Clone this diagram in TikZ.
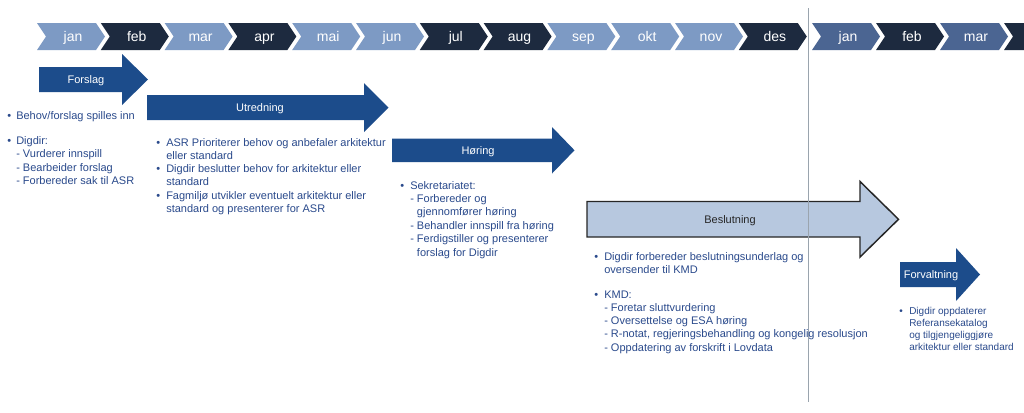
\documentclass[tikz,border=0pt]{standalone}
\usepackage{fontspec}
\setmainfont{Liberation Sans}
\definecolor{mlight}{HTML}{7D9AC4}
\definecolor{mdark}{HTML}{1D2A3F}
\definecolor{mmid}{HTML}{4B6592}
\definecolor{arrblue}{HTML}{1C4C8B}
\definecolor{beslfill}{HTML}{B7C8DF}
\definecolor{txtblue}{HTML}{2A4A8C}
\definecolor{vline}{HTML}{9AA4AE}
\newcommand{\chev}[4]{%
  \fill[#3] (#2,23) -- ++(59,0) -- ++(9,13.5) -- ++(-9,13.5) -- ++(-59,0) -- ++(9,-13.5) -- cycle;
  \node[monthlbl] (#1) at (#2+36,41.5) {#4};}
\newcommand{\tl}[4]{\node[txt] (#1) at (#2,#3) {#4};}
\newcommand{\stl}[4]{\node[smalltxt] (#1) at (#2,#3) {#4};}
\begin{document}
\begin{tikzpicture}[x=0.75pt,y=-0.75pt,
  monthlbl/.style={anchor=base, text=white, font=\fontsize{10.5}{12}\selectfont, inner sep=0},
  txt/.style={anchor=base west, inner sep=0, text=txtblue, font=\fontsize{8.25}{10}\selectfont},
  smalltxt/.style={anchor=base west, inner sep=0, text=txtblue, font=\fontsize{7.5}{9}\selectfont},
  arrlbl/.style={anchor=base, inner sep=0, font=\fontsize{8.25}{10}\selectfont, text=white},
  bigarrow/.style={fill=arrblue},
]
\useasboundingbox (0,0) rectangle (1024,412);
\fill[white] (0,0) rectangle (1024,412);

% month chevrons, year 1
\chev{m1}{37}{mlight}{jan}
\chev{m2}{100.8}{mdark}{feb}
\chev{m3}{164.6}{mlight}{mar}
\chev{m4}{228.4}{mdark}{apr}
\chev{m5}{292.2}{mlight}{mai}
\chev{m6}{356}{mlight}{jun}
\chev{m7}{419.8}{mdark}{jul}
\chev{m8}{483.6}{mdark}{aug}
\chev{m9}{547.4}{mlight}{sep}
\chev{m10}{611.2}{mlight}{okt}
\chev{m11}{675}{mlight}{nov}
\chev{m12}{738.8}{mdark}{des}
% year 2
\chev{n1}{812}{mmid}{jan}
\chev{n2}{876}{mdark}{feb}
\chev{n3}{940}{mmid}{mar}
\begin{scope}
  \clip (0,0) rectangle (1024,412);
  \fill[mdark] (1004,23) -- ++(59,0) -- ++(9,13.5) -- ++(-9,13.5) -- ++(-59,0) -- ++(9,-13.5) -- cycle;
\end{scope}

% Forslag
\fill[bigarrow] (39,67) -- (122,67) -- (122,54) -- (148,79.5) -- (122,105) -- (122,92) -- (39,92) -- cycle;
\node[arrlbl] (forslag) at (86,83.5) {Forslag};
% Utredning
\fill[bigarrow] (147,95) -- (364,95) -- (364,83) -- (388.5,107.5) -- (364,132) -- (364,120) -- (147,120) -- cycle;
\node[arrlbl] (utredning) at (260,111.5) {Utredning};
% Horing
\fill[bigarrow] (392,138.5) -- (552,138.5) -- (552,127) -- (574.5,150.3) -- (552,173.5) -- (552,162) -- (392,162) -- cycle;
\node[arrlbl] (horing) at (478,154.3) {Høring};
% Beslutning
\filldraw[fill=beslfill, draw=black!85, line width=1.1pt, line join=miter] (587,201.5) -- (860,201.5) -- (860,181.5) -- (898.5,219.3) -- (860,257) -- (860,237) -- (587,237) -- cycle;
\node[arrlbl, text=black!85] (beslutning) at (730,223.3) {Beslutning};
% Forvaltning
\fill[bigarrow] (900,262) -- (956,262) -- (956,248) -- (980,274.5) -- (956,301) -- (956,287) -- (900,287) -- cycle;
\node[arrlbl] (forvaltning) at (931,278.5) {Forvaltning};

% vertical year separator
\draw[vline, line width=0.75pt] (808,8) coordinate (vtop) -- (808,402) coordinate (vbot);

% Forslag text
\tl{fb1}{7}{119}{•}
\tl{f1}{16}{119}{Behov/forslag spilles inn}
\tl{fb2}{7}{144.5}{•}
\tl{f2}{16}{144.5}{Digdir:}
\tl{f3}{16}{157.8}{- Vurderer innspill}
\tl{f4}{16}{171.1}{- Bearbeider forslag}
\tl{f5}{16}{184.4}{- Forbereder sak til ASR}

% Utredning text
\tl{ub1}{156}{146}{•}
\tl{u1}{166}{146}{ASR Prioriterer behov og anbefaler arkitektur}
\tl{u2}{166}{159.3}{eller standard}
\tl{ub2}{156}{172.6}{•}
\tl{u3}{166}{172.6}{Digdir beslutter behov for arkitektur eller}
\tl{u4}{166}{185.9}{standard}
\tl{ub3}{156}{199.2}{•}
\tl{u5}{166}{199.2}{Fagmiljø utvikler eventuelt arkitektur eller}
\tl{u6}{166}{212.5}{standard og presenterer for ASR}

% Horing text
\tl{hb1}{400}{189}{•}
\tl{h1}{410}{189}{Sekretariatet:}
\tl{h2}{410}{202.4}{- Forbereder og}
\tl{h3}{410}{215.8}{\phantom{- }gjennomfører høring}
\tl{h4}{410}{229.2}{- Behandler innspill fra høring}
\tl{h5}{410}{242.6}{- Ferdigstiller og presenterer}
\tl{h6}{410}{256}{\phantom{- }forslag for Digdir}

% Beslutning text
\tl{bb1}{594}{260.5}{•}
\tl{b1}{604}{260.5}{Digdir forbereder beslutningsunderlag og}
\tl{b2}{604}{273.8}{oversender til KMD}
\tl{bb2}{594}{298}{•}
\tl{b3}{604}{298}{KMD:}
\tl{b4}{604}{311.3}{- Foretar sluttvurdering}
\tl{b5}{604}{324.6}{- Oversettelse og ESA høring}
\tl{b6}{604}{337.9}{- R-notat, regjeringsbehandling og kongelig resolusjon}
\tl{b7}{604}{351.2}{- Oppdatering av forskrift i Lovdata}

% Forvaltning text
\stl{vb1}{899}{314}{•}
\stl{v1}{909}{314}{Digdir oppdaterer}
\stl{v2}{909}{326.3}{Referansekatalog}
\stl{v3}{909}{338.6}{og tilgjengeliggjøre}
\stl{v4}{909}{350.9}{arkitektur eller standard}
\end{tikzpicture}
\end{document}
